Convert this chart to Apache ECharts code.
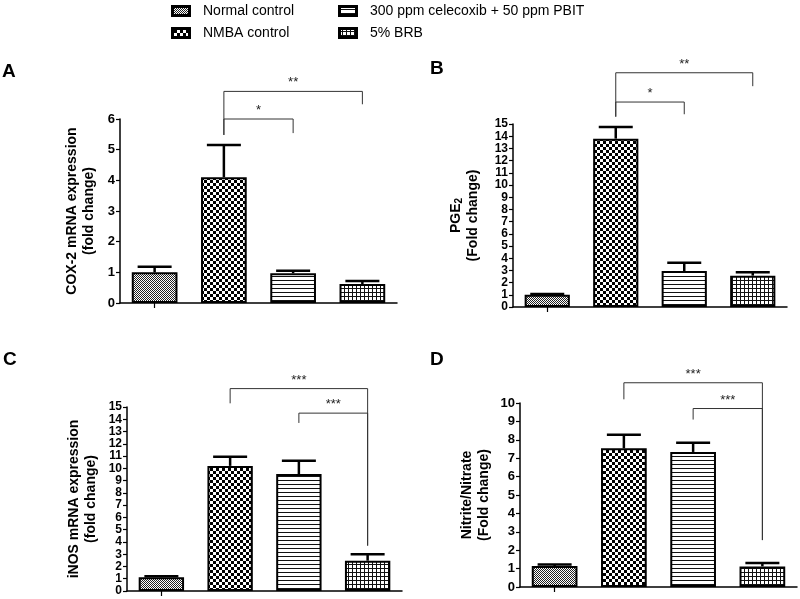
<!DOCTYPE html>
<html>
<head>
<meta charset="utf-8">
<script src="https://cdn.jsdelivr.net/npm/echarts@6/dist/echarts.min.js"></script>
<style>html,body{margin:0;padding:0;background:#fff}#c{width:800px;height:599px}</style>
</head>
<body>
<div id="c"></div>
<script>
// ---------- data ----------
const categories = ['Normal control', 'NMBA control', '300 ppm celecoxib + 50 ppm PBIT', '5% BRB'];

const meanA = [1.0, 4.1, 0.97, 0.62];
const upperA = [1.18, 5.15, 1.05, 0.72];
const meanB = [1.0, 13.8, 2.95, 2.57];
const upperB = [1.07, 14.75, 3.63, 2.85];
const meanC = [1.12, 10.2, 9.53, 2.47];
const upperC = [1.2, 10.95, 10.62, 2.99];
const meanD = [1.14, 7.54, 7.34, 1.12];
const upperD = [1.22, 8.27, 7.84, 1.3];

const yMaxA = 6, yMaxB = 15, yMaxC = 15, yMaxD = 10;

// brackets: [fromCat, toCat, yTop, yLeftEnd, yRightEnd]
const bracketsA = [[1, 2, 6.0, 5.48, 5.54], [1, 3, 6.9, 5.48, 6.48]];
const bracketLabelsA = ['*', '**'];
const bracketsB = [[1, 2, 16.8, 15.6, 15.8], [1, 3, 19.2, 15.6, 18.1]];
const bracketLabelsB = ['*', '**'];
const bracketsC = [[1, 3, 16.5, 15.3, 3.7], [2, 3, 14.5, 13.7, 3.7]];
const bracketLabelsC = ['***', '***'];
const bracketsD = [[1, 3, 11.1, 10.2, 2.55], [2, 3, 9.7, 9.1, 2.55]];
const bracketLabelsD = ['***', '***'];

const yNames = [
  'COX-2 mRNA expression\n(fold change)',
  '{b|PGE}{s|2}\n{b|(Fold change)}',
  'iNOS mRNA expression\n(fold change)',
  'Nitrite/Nitrate\n(Fold change)'
];
const panelLetters = ['A', 'B', 'C', 'D'];

// ---------- patterns ----------
function makePatternCanvas(kind) {
  const c = document.createElement('canvas');
  const ctx = c.getContext('2d');
  if (kind === 0) { // fine checker
    c.width = 2; c.height = 2;
    ctx.fillStyle = '#fff'; ctx.fillRect(0, 0, 2, 2);
    ctx.fillStyle = '#222'; ctx.fillRect(0, 0, 1, 1); ctx.fillRect(1, 1, 1, 1);
  } else if (kind === 1) { // coarse checker
    c.width = 6; c.height = 6;
    ctx.fillStyle = '#fff'; ctx.fillRect(0, 0, 6, 6);
    ctx.fillStyle = '#000'; ctx.fillRect(0, 0, 3, 3); ctx.fillRect(3, 3, 3, 3);
  } else if (kind === 2) { // horizontal lines
    c.width = 4; c.height = 4;
    ctx.fillStyle = '#fff'; ctx.fillRect(0, 0, 4, 4);
    ctx.fillStyle = '#111'; ctx.fillRect(0, 0, 4, 1);
  } else { // grid
    c.width = 4; c.height = 4;
    ctx.fillStyle = '#fff'; ctx.fillRect(0, 0, 4, 4);
    ctx.fillStyle = '#111'; ctx.fillRect(0, 0, 4, 1); ctx.fillRect(0, 0, 1, 4);
  }
  return c;
}
const patternCanvases = [0, 1, 2, 3].map(makePatternCanvas);
const patterns = patternCanvases.map(c => ({ image: c, repeat: 'repeat' }));

function makeIcon(i) {
  const c = document.createElement('canvas');
  c.width = 20; c.height = 12;
  const ctx = c.getContext('2d');
  ctx.fillStyle = ctx.createPattern(patternCanvases[i], 'repeat');
  ctx.fillRect(0, 0, 20, 12);
  ctx.strokeStyle = '#000'; ctx.lineWidth = 3;
  ctx.strokeRect(1.5, 1.5, 17, 9);
  return 'image://' + c.toDataURL();
}

// ---------- layout ----------
const FONT = 'Liberation Sans, Arial, sans-serif';
const grids = [
  { left: 120, top: 119, width: 277, height: 184 },
  { left: 513, top: 124, width: 274, height: 183 },
  { left: 127, top: 407, width: 275, height: 184 },
  { left: 520, top: 403, width: 277, height: 184 }
];
const nameGaps = [22, 31, 27, 27];
const labelSizes = [13, 12, 12, 13];
const means = [meanA, meanB, meanC, meanD];
const uppers = [upperA, upperB, upperC, upperD];
const maxes = [yMaxA, yMaxB, yMaxC, yMaxD];
const brackets = [bracketsA, bracketsB, bracketsC, bracketsD];
const bracketLabels = [bracketLabelsA, bracketLabelsB, bracketLabelsC, bracketLabelsD];
const letterPos = [[2, 62], [430, 59], [3, 350], [430, 350]];

const axisLine = { show: true, lineStyle: { color: '#000', width: 1.5 } };

const xAxis = [], yAxis = [], series = [], title = [];
for (let g = 0; g < 4; g++) {
  xAxis.push({
    type: 'category', gridIndex: g, data: categories,
    axisLine: axisLine,
    axisTick: { show: true, alignWithLabel: true, length: 5, lineStyle: { color: '#000', width: 1.2 } },
    axisLabel: { show: false }, splitLine: { show: false }
  });
  yAxis.push({
    type: 'value', gridIndex: g, min: 0, max: maxes[g], interval: 1,
    axisLine: axisLine,
    axisTick: { show: true, length: 4, lineStyle: { color: '#000', width: 1.2 } },
    axisLabel: {
      color: '#000', fontSize: labelSizes[g], fontWeight: 'bold', fontFamily: FONT, margin: 5,
      showMinLabel: true, showMaxLabel: true, hideOverlap: false, lineHeight: 12
    },
    splitLine: { show: false },
    name: yNames[g], nameLocation: 'middle', nameRotate: 90, nameGap: nameGaps[g],
    nameTextStyle: {
      color: '#000', fontSize: 14, fontWeight: 'bold', fontFamily: FONT, lineHeight: 17,
      rich: {
        b: { fontSize: 14, fontWeight: 'bold', fontFamily: FONT, color: '#000', lineHeight: 17 },
        s: { fontSize: 10, fontWeight: 'bold', fontFamily: FONT, color: '#000', padding: [6, 0, 0, 0], lineHeight: 17 }
      }
    }
  });
  for (let i = 0; i < 4; i++) {
    series.push({
      type: 'bar', name: categories[i], xAxisIndex: g, yAxisIndex: g,
      barWidth: '66%', barGap: '-100%',
      data: means[g].map((v, k) => (k === i ? v : '-')),
      itemStyle: { color: patterns[i], borderColor: '#000', borderWidth: 2 },
      emphasis: { disabled: true }, z: 2
    });
  }
  series.push({
    type: 'custom', xAxisIndex: g, yAxisIndex: g, z: 3,
    data: means[g].map((m, i) => [i, m, uppers[g][i]]),
    encode: { x: 0, y: [1, 2] },
    renderItem: function (params, api) {
      const x = api.value(0);
      const p0 = api.coord([x, api.value(1)]);
      const p1 = api.coord([x, api.value(2)]);
      const half = 17;
      return {
        type: 'group', children: [
          { type: 'line', shape: { x1: p0[0], y1: p0[1], x2: p1[0], y2: p1[1] }, style: { stroke: '#000', lineWidth: 2.5 } },
          { type: 'line', shape: { x1: p1[0] - half, y1: p1[1], x2: p1[0] + half, y2: p1[1] }, style: { stroke: '#000', lineWidth: 2.5 } }
        ]
      };
    }
  });
  const labs = bracketLabels[g];
  series.push({
    type: 'custom', xAxisIndex: g, yAxisIndex: g, z: 3, clip: false,
    data: brackets[g],
    encode: { x: [0, 1], y: [2, 3, 4] },
    renderItem: function (params, api) {
      const a = api.value(0), b = api.value(1);
      const top = api.value(2);
      const pA = api.coord([a, top]);
      const pB = api.coord([b, top]);
      const pAe = api.coord([a, api.value(3)]);
      const pBe = api.coord([b, api.value(4)]);
      const st = { stroke: '#333', lineWidth: 1 };
      return {
        type: 'group', children: [
          { type: 'polyline', shape: { points: [[pAe[0], pAe[1]], [pA[0], pA[1]], [pB[0], pB[1]], [pBe[0], pBe[1]]] }, style: Object.assign({ fill: null }, st) },
          { type: 'text', x: (pA[0] + pB[0]) / 2, y: pA[1] - 2, style: { text: labs[params.dataIndex], textAlign: 'center', textVerticalAlign: 'bottom', fontSize: 13, fontFamily: FONT, fill: '#222' } }
        ]
      };
    }
  });
  title.push({
    text: panelLetters[g], left: letterPos[g][0], top: letterPos[g][1], padding: 0,
    textStyle: { fontSize: 19, fontWeight: 'bold', fontFamily: FONT, color: '#000' }
  });
}

const legendBase = {
  orient: 'vertical', itemWidth: 20, itemHeight: 12, itemGap: 8, padding: 0,
  textStyle: { fontSize: 14, fontFamily: FONT, color: '#000', padding: [0, 0, 0, 7] },
  selectedMode: false
};
function legendItem(i) {
  return { name: categories[i], icon: makeIcon(i) };
}

const chart = echarts.init(document.getElementById('c'), null, { renderer: 'canvas' });
chart.setOption({
  animation: false,
  backgroundColor: '#fff',
  title: title,
  legend: [
    Object.assign({ left: 171, top: 4, data: [legendItem(0), legendItem(1)] }, legendBase),
    Object.assign({ left: 338, top: 4, data: [legendItem(2), legendItem(3)] }, legendBase)
  ],
  grid: grids,
  xAxis: xAxis,
  yAxis: yAxis,
  series: series
});
</script>
</body>
</html>
